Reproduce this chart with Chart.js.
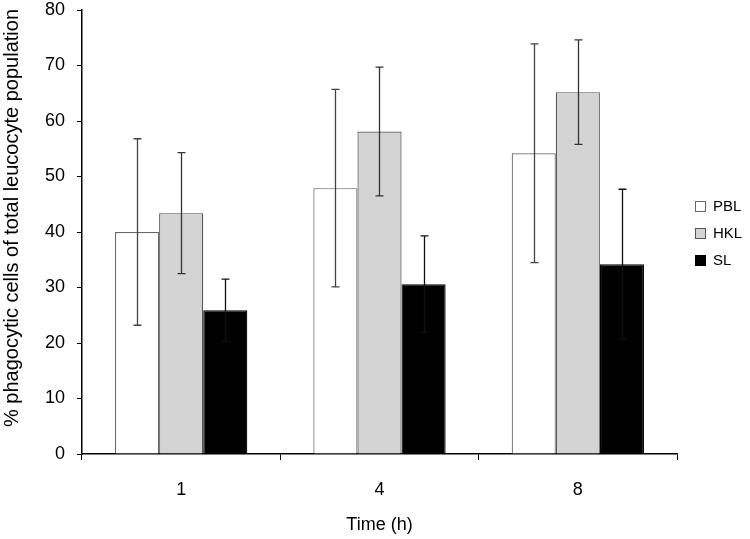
<!DOCTYPE html>
<html>
<head>
<meta charset="utf-8">
<script src="https://cdn.jsdelivr.net/npm/chart.js@4/dist/chart.umd.min.js"></script>
<style>
  html, body { margin: 0; padding: 0; background: #fff; }
  #wrap { width: 750px; height: 539px; }
</style>
</head>
<body>
<div id="wrap"><canvas id="chart" width="750" height="539"></canvas></div>
<script>
// data
const timeLabels = ['1', '4', '8'];
const pblMean = [40.0, 47.9, 54.2];
const pblErr  = [16.8, 17.8, 19.7];
const hklMean = [43.4, 58.1, 65.2];
const hklErr  = [10.9, 11.6, 9.4];
const slMean  = [25.9, 30.6, 34.2];
const slErr   = [5.6, 8.7, 13.5];
const yTicks  = [0, 10, 20, 30, 40, 50, 60, 70, 80];

const FONT = 'Liberation Sans, Arial, sans-serif';
const Y_TITLE = '% phagocytic cells of total leucocyte population';

// error bars drawn through the chart's own scales
const errorBars = {
    id: 'errorBars',
    afterDatasetsDraw(chart) {
        const ctx = chart.ctx;
        const y = chart.scales.y;
        chart.data.datasets.forEach((ds, i) => {
            const meta = chart.getDatasetMeta(i);
            meta.data.forEach((bar, j) => {
                const m = ds.data[j], e = ds.errors[j];
                const yTop = y.getPixelForValue(m + e);
                const yBot = y.getPixelForValue(m - e);
                const x = Math.round(bar.x) + 0.5;
                ctx.save();
                ctx.strokeStyle = ds.errColor;
                ctx.lineWidth = 1.3;
                ctx.beginPath();
                ctx.moveTo(x, yTop);
                ctx.lineTo(x, yBot);
                ctx.moveTo(x - 4, yTop);
                ctx.lineTo(x + 4, yTop);
                ctx.moveTo(x - 4, yBot);
                ctx.lineTo(x + 4, yBot);
                ctx.stroke();
                ctx.restore();
            });
        });
    }
};

// y title and legend drawn by hand
const sideText = {
    id: 'sideText',
    afterDraw(chart) {
        const ctx = chart.ctx;
        ctx.save();
        ctx.fillStyle = '#000';
        ctx.font = '20px ' + FONT;
        ctx.textAlign = 'center';
        ctx.textBaseline = 'middle';
        ctx.translate(12, 218);
        ctx.rotate(-Math.PI / 2);
        ctx.fillText(Y_TITLE, 0, 0);
        ctx.restore();

        const x0 = 700, y0 = 206, step = 27;
        ctx.save();
        ctx.font = '15px ' + FONT;
        ctx.textBaseline = 'middle';
        chart.data.datasets.forEach((ds, i) => {
            const yy = Math.round(y0 + i * step);
            ctx.fillStyle = ds.backgroundColor;
            ctx.fillRect(x0 - 5, yy - 5, 10, 10);
            ctx.strokeStyle = ds.borderColor;
            ctx.lineWidth = 1;
            ctx.strokeRect(x0 - 5 + 0.5, yy - 5 + 0.5, 10, 10);
            ctx.fillStyle = '#000';
            ctx.fillText(ds.label, x0 + 13, yy + 1);
        });
        ctx.restore();
    }
};

new Chart(document.getElementById('chart'), {
    type: 'bar',
    data: {
        labels: timeLabels,
        datasets: [
            { label: 'PBL', data: pblMean, errors: pblErr, backgroundColor: '#ffffff', borderColor: '#666666', borderWidth: 1.2, errColor: '#444444' },
            { label: 'HKL', data: hklMean, errors: hklErr, backgroundColor: '#d4d4d4', borderColor: '#555555', borderWidth: 1.2, errColor: '#333333' },
            { label: 'SL',  data: slMean,  errors: slErr,  backgroundColor: '#000000', borderColor: '#000000', borderWidth: 1.2, errColor: '#111111' }
        ]
    },
    options: {
        responsive: false,
        animation: false,
        events: [],
        layout: { padding: { left: 0, top: 10, right: 73, bottom: 0 } },
        datasets: { bar: { categoryPercentage: 0.667, barPercentage: 1.0 } },
        plugins: {
            legend: { display: false },
            tooltip: { enabled: false }
        },
        scales: {
            x: {
                grid: { display: true, drawOnChartArea: false, drawTicks: true, tickLength: 6, color: '#000', offset: true },
                border: { display: true, color: '#000', width: 1.5 },
                ticks: { color: '#000', font: { family: FONT, size: 18 }, padding: 19 },
                title: { display: true, text: 'Time (h)', color: '#000', font: { family: FONT, size: 18 }, padding: { top: 10, bottom: 3 } },
                afterFit(s) { s.height = 85; }
            },
            y: {
                min: 0,
                max: 80,
                afterBuildTicks(s) { s.ticks = yTicks.map(v => ({ value: v })); },
                grid: { display: true, drawOnChartArea: false, drawTicks: true, tickLength: 5, color: '#000' },
                border: { display: true, color: '#000', width: 1.5 },
                ticks: { color: '#000', font: { family: FONT, size: 18 }, padding: 12 },
                afterFit(s) { s.width = 82; s.paddingTop = 0; s.paddingBottom = 0; }
            }
        }
    },
    plugins: [errorBars, sideText]
});
</script>
</body>
</html>
